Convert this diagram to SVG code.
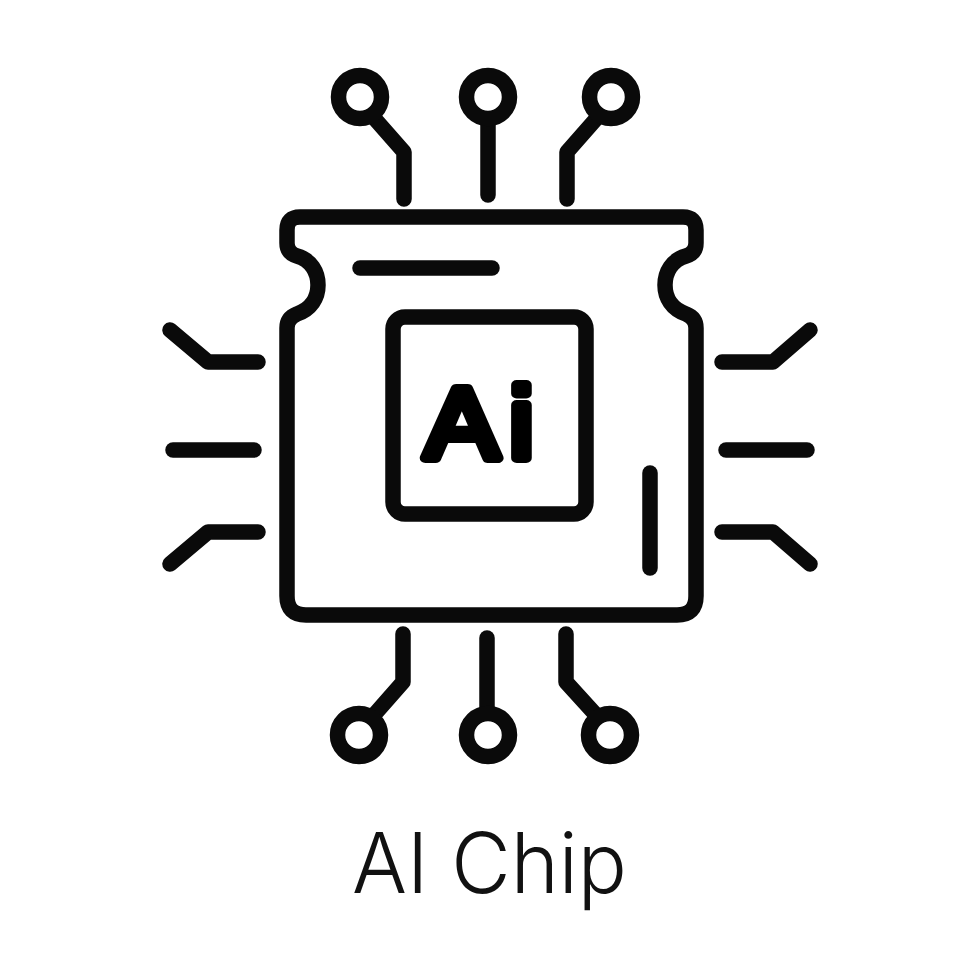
<svg xmlns="http://www.w3.org/2000/svg" width="980" height="980" viewBox="0 0 980 980">
<style>
.l{fill:none;stroke:#0a0a0a;stroke-width:15.500;stroke-linecap:round;stroke-linejoin:round}
.c{fill:#fff;stroke:#0a0a0a;stroke-width:15.500}
</style>
<rect width="980" height="980" fill="#fff"/>
<g id="chip">
<path class="l" d="M300 217H683Q696 217 696 230V243Q696 253 686 256C672 260 665 272 665 285C665 298 672 309 686 314Q696 318 696 328V596Q696 615 677 615H306Q287 615 287 596V328Q287 318 297 314C311 309 318 298 318 285C318 272 311 260 297 256Q287 253 287 243V230Q287 217 300 217Z"/>
<path class="l" d="M360 268H492"/>
<path class="l" d="M650 473V568"/>
</g>
<g id="core">
<rect class="l" x="393" y="317" width="193" height="197" rx="12"/>
<text transform="translate(425 458) scale(1.1 1)" x="0 76.500" y="0" font-family="'Liberation Sans', Arial, sans-serif" font-size="100" fill="#000" stroke="#000" stroke-width="10" stroke-linejoin="round">Ai</text>
</g>
<g id="connectors">
<path class="l" d="M404 199V152L375 119"/>
<path class="l" d="M488 195V125"/>
<path class="l" d="M567 199V152L596 119"/>
<path class="l" d="M403 634V682L374 715"/>
<path class="l" d="M487 638V708"/>
<path class="l" d="M566 634V682L596 715"/>
<path class="l" d="M258 362H208L170 330"/>
<path class="l" d="M254 450H173"/>
<path class="l" d="M258 532H208L170 564"/>
<path class="l" d="M722 362H773L810 330"/>
<path class="l" d="M726 450H807"/>
<path class="l" d="M722 532H773L810 564"/>
</g>
<g id="pin-t1"><circle class="c" cx="360" cy="97" r="21.500"/></g>
<g id="pin-t2"><circle class="c" cx="488" cy="97" r="21.500"/></g>
<g id="pin-t3"><circle class="c" cx="611" cy="97" r="21.500"/></g>
<g id="pin-b1"><circle class="c" cx="359" cy="735" r="21.500"/></g>
<g id="pin-b2"><circle class="c" cx="488" cy="735" r="21.500"/></g>
<g id="pin-b3"><circle class="c" cx="610" cy="735" r="21.500"/></g>
<text id="caption" x="352" y="893" font-family="Inter, 'Liberation Sans', Arial, sans-serif" font-size="84" font-weight="300" fill="#111" textLength="275" lengthAdjust="spacingAndGlyphs">AI Chip</text>
</svg>
